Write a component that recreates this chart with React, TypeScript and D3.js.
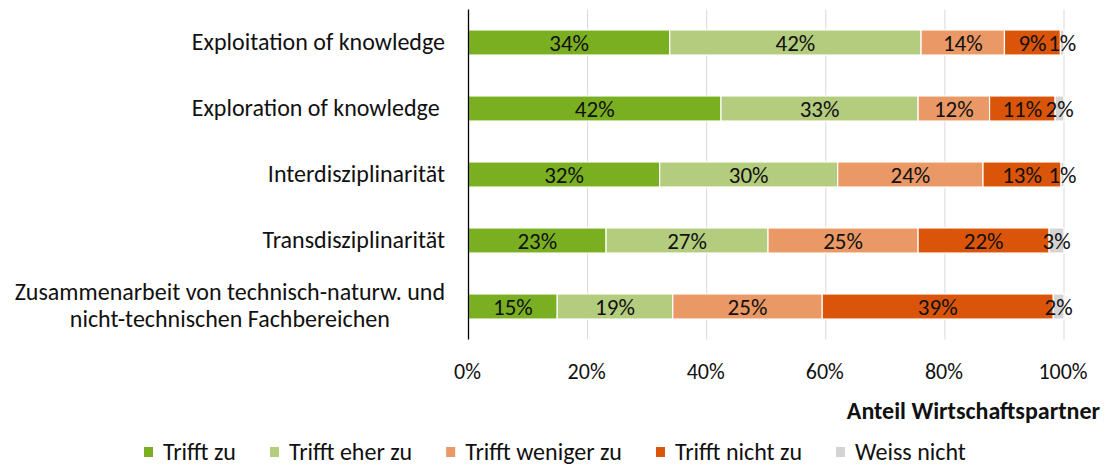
import React, { useEffect, useRef } from 'react';
import * as d3 from 'd3';

const categories = [
  ['Exploitation of knowledge'],
  ['Exploration of knowledge '],
  ['Interdisziplinarität'],
  ['Transdisziplinarität'],
  ['Zusammenarbeit von technisch-naturw. und', 'nicht-technischen Fachbereichen'],
];
const seriesNames = ['Trifft zu', 'Trifft eher zu', 'Trifft weniger zu', 'Trifft nicht zu', 'Weiss nicht'];
const colors = ['#7BAF22', '#B4CC7E', '#EA9865', '#DA5509', '#D4D4D4'];

// values per series, one per category (percent)
const trifftZu = [33.8, 42.4, 32.1, 23.1, 14.9];
const trifftEherZu = [42.2, 33.1, 29.9, 27.2, 19.4];
const trifftWenigerZu = [14.0, 12.0, 24.4, 25.2, 25.1];
const trifftNichtZu = [9.4, 11.0, 13.1, 22.0, 38.8];
const weissNicht = [0.6, 1.5, 0.5, 2.5, 1.8];

const xTicks = [0, 20, 40, 60, 80, 100];
const axisTitle = 'Anteil Wirtschaftspartner';

const FONT = 'Carlito, Calibri, Lato, sans-serif';

const App = () => {
  const svgRef = useRef<SVGSVGElement>(null);

  useEffect(() => {
    const width = 1105;
    const height = 466;
    const margin = { top: 9.5, right: 41, bottom: 126.5, left: 468.5 };

    const svg = d3.select(svgRef.current)
      .attr('width', width)
      .attr('height', height)
      .style('font-family', FONT);
    svg.selectAll('*').remove();

    const series = [trifftZu, trifftEherZu, trifftWenigerZu, trifftNichtZu, weissNicht];
    const rows = categories.map((c, i) => {
      const row: any = { key: String(i) };
      seriesNames.forEach((s, j) => { row[s] = series[j][i]; });
      return row;
    });
    const stacked = d3.stack().keys(seriesNames)(rows);

    const x = d3.scaleLinear()
      .domain([0, 100])
      .range([margin.left, width - margin.right]);

    const y = d3.scaleBand()
      .domain(rows.map(r => r.key))
      .range([margin.top, height - margin.bottom])
      .paddingInner(0.62)
      .paddingOuter(0.31);

    const y0 = margin.top;
    const y1 = height - margin.bottom;

    // gridlines
    svg.append('g')
      .selectAll('line')
      .data(xTicks.filter(t => t > 0))
      .join('line')
      .attr('x1', d => x(d))
      .attr('x2', d => x(d))
      .attr('y1', y0)
      .attr('y2', y1)
      .attr('stroke', '#D9D9D9')
      .attr('stroke-width', 1);

    // bars
    const layer = svg.append('g')
      .selectAll('g')
      .data(stacked)
      .join('g')
      .attr('fill', (d, i) => colors[i]);

    layer.selectAll('rect')
      .data(d => d)
      .join('rect')
      .attr('x', d => x(d[0]))
      .attr('y', d => y(d.data.key as string)!)
      .attr('width', d => x(d[1]) - x(d[0]))
      .attr('height', y.bandwidth())
      .attr('stroke', '#fff')
      .attr('stroke-width', 1.2);

    // data labels
    layer.selectAll('text')
      .data(d => d)
      .join('text')
      .attr('x', d => (x(d[0]) + x(d[1])) / 2)
      .attr('y', d => y(d.data.key as string)! + y.bandwidth() / 2)
      .attr('dy', '0.35em')
      .attr('text-anchor', 'middle')
      .attr('fill', '#111')
      .attr('font-size', 23)
      .text(d => `${Math.round(d[1] - d[0])}%`);

    // axis line
    svg.append('line')
      .attr('x1', x(0))
      .attr('x2', x(0))
      .attr('y1', y0)
      .attr('y2', y1)
      .attr('stroke', '#000')
      .attr('stroke-width', 1.3);

    // category labels
    const labelRight = 445;
    const lineH = 27;
    categories.forEach((lines, i) => {
      const cy = y(String(i))! + y.bandwidth() / 2;
      const g = svg.append('g');
      const texts = lines.map((l, k) => g.append('text')
        .attr('y', cy + (k - (lines.length - 1) / 2) * lineH - 1)
        .attr('dy', '0.35em')
        .attr('font-size', 24)
        .attr('fill', '#111')
        .style('white-space', 'pre')
        .text(l));
      if (lines.length === 1) {
        texts[0].attr('x', labelRight).attr('text-anchor', 'end');
      } else {
        const w = d3.max(texts, t => (t.node() as SVGTextElement).getComputedTextLength()) || 0;
        texts.forEach(t => t.attr('x', labelRight - w / 2).attr('text-anchor', 'middle'));
      }
    });

    // tick labels
    svg.append('g')
      .selectAll('text')
      .data(xTicks)
      .join('text')
      .attr('x', d => x(d) - 1)
      .attr('y', 371)
      .attr('dy', '0.35em')
      .attr('text-anchor', 'middle')
      .attr('font-size', 22)
      .attr('fill', '#111')
      .text(d => `${d}%`);

    // axis title
    svg.append('text')
      .attr('x', 1100)
      .attr('y', 411)
      .attr('dy', '0.35em')
      .attr('text-anchor', 'end')
      .attr('font-size', 24)
      .attr('font-weight', 'bold')
      .attr('fill', '#111')
      .text(axisTitle);

    // legend
    const legend = svg.append('g');
    let lx = 144;
    const ly = 452;
    seriesNames.forEach((s, i) => {
      legend.append('rect')
        .attr('x', lx)
        .attr('y', ly - 5)
        .attr('width', 9)
        .attr('height', 10)
        .attr('fill', colors[i]);
      const t = legend.append('text')
        .attr('x', lx + 19)
        .attr('y', ly)
        .attr('dy', '0.35em')
        .attr('font-size', 24)
        .attr('fill', '#111')
        .text(s);
      const w = (t.node() as SVGTextElement).getComputedTextLength();
      lx += 19 + w + 34;
    });
  }, []);

  return (
    <div style={{ position: 'absolute', left: 0, top: 0 }}>
      <svg ref={svgRef}></svg>
    </div>
  );
};

export default App;
